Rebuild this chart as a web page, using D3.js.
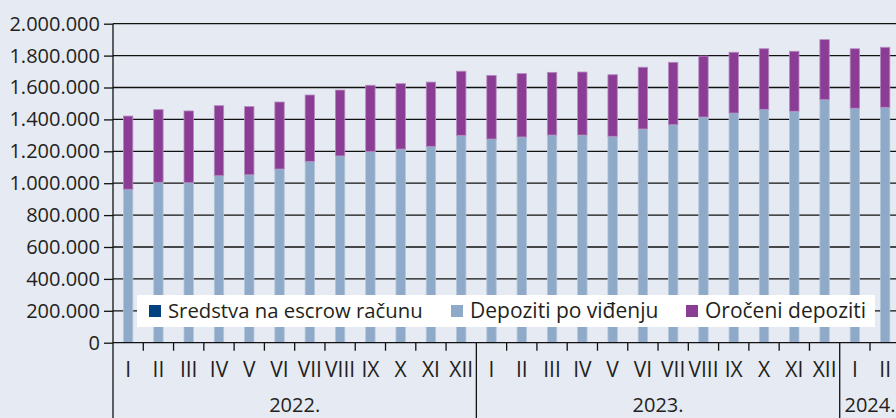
<!DOCTYPE html>
<html>
<head>
<meta charset="utf-8">
<script src="https://cdn.jsdelivr.net/npm/d3@7"></script>
<style>
  html, body { margin: 0; padding: 0; background: #e6eaf2; }
  svg { display: block; }
  text { font-family: "Open Sans", "Noto Sans", sans-serif; fill: #231f20; }
</style>
</head>
<body>
<svg id="chart" width="896" height="418"></svg>
<script>
// ---- data ----
const months = ["I","II","III","IV","V","VI","VII","VIII","IX","X","XI","XII",
                "I","II","III","IV","V","VI","VII","VIII","IX","X","XI","XII",
                "I","II"];
const years = ["2022.","2023.","2024."];
const yearOf = [0,0,0,0,0,0,0,0,0,0,0,0, 1,1,1,1,1,1,1,1,1,1,1,1, 2,2];
const escrow = [0,0,0,0,0,0,0,0,0,0,0,0, 0,0,0,0,0,0,0,0,0,0,0,0, 0,0];
const demand = [962000,1006000,1003000,1047000,1053000,1089000,1137000,1171000,1198000,1214000,1231000,1300000,
                1277000,1290000,1302000,1302000,1294000,1340000,1367000,1415000,1440000,1463000,1451000,1524000,
                1470000,1476000];
const totals = [1421000,1461000,1453000,1486000,1480000,1509000,1553000,1584000,1614000,1624000,1634000,1702000,
                1676000,1687000,1695000,1697000,1680000,1727000,1758000,1797000,1821000,1843000,1827000,1900000,
                1843000,1852000];
const term = totals.map((t, i) => t - demand[i] - escrow[i]);
const yTicks = [0,200000,400000,600000,800000,1000000,1200000,1400000,1600000,1800000,2000000];
const seriesNames = ["Sredstva na escrow računu","Depoziti po viđenju","Oročeni depoziti"];
const colors = ["#02417f","#8eaac8","#8b3c95"];
const strokes = ["#4a6f9c","#b4c6da","#b58bbf"];

// ---- layout ----
const svg = d3.select("#chart");
const x0 = 113, step = 30.28;
const x = d3.scaleBand().domain(d3.range(months.length))
  .range([x0, x0 + step * months.length]).paddingInner(0.69).paddingOuter(0.345);
const y = d3.scaleLinear().domain([0, 2000000]).range([342.7, 23.7]);

const fmt = v => d3.format(",")(v).replace(/,/g, ".");

// gridlines
svg.append("g").selectAll("line").data(yTicks.filter(d => d > 0)).join("line")
  .attr("x1", x0).attr("x2", 896)
  .attr("y1", d => y(d)).attr("y2", d => y(d))
  .attr("stroke", "#111").attr("stroke-width", 1.3);

// stacked bars
const table = months.map((m, i) => ({i, escrow: escrow[i], demand: demand[i], term: term[i]}));
const stack = d3.stack().keys(["escrow","demand","term"])(table);
svg.append("g").selectAll("g").data(stack).join("g")
  .attr("fill", (d, k) => colors[k])
  .attr("stroke", (d, k) => strokes[k])
  .attr("stroke-width", 0.8)
  .selectAll("rect").data(d => d.filter(s => s[1] - s[0] > 0)).join("rect")
  .attr("x", d => x(d.data.i))
  .attr("width", x.bandwidth())
  .attr("y", d => y(d[1]))
  .attr("height", d => y(d[0]) - y(d[1]));

// y axis
const yAxis = d3.axisLeft(y).tickValues(yTicks).tickFormat(fmt).tickSize(9).tickPadding(4);
const ya = svg.append("g").attr("transform", `translate(${x0},0)`).call(yAxis);
ya.select(".domain").remove();
ya.selectAll("line").attr("stroke", "#111").attr("stroke-width", 1.3);
ya.selectAll("text").attr("font-size", 20).style("font-family", "'Open Sans', sans-serif").attr("fill", "#231f20");
svg.append("line").attr("x1", x0).attr("x2", x0).attr("y1", y(2000000)).attr("y2", 418)
  .attr("stroke", "#111").attr("stroke-width", 1.3);

// x axis baseline
svg.append("line").attr("x1", x0).attr("x2", 896).attr("y1", y(0)).attr("y2", y(0))
  .attr("stroke", "#111").attr("stroke-width", 1.3);

// month ticks and year separators
const xa = svg.append("g");
months.forEach((m, i) => {
  if (i === 0) return;
  const bx = x0 + step * i;
  const sep = yearOf[i] !== yearOf[i - 1];
  xa.append("line").attr("x1", bx).attr("x2", bx).attr("y1", y(0)).attr("y2", sep ? 418 : y(0) + 8)
    .attr("stroke", "#111").attr("stroke-width", 1.3);
});
xa.selectAll("text.m").data(months).join("text").attr("class", "m")
  .attr("x", (d, i) => x(i) + x.bandwidth() / 2).attr("y", 377)
  .attr("text-anchor", "middle").attr("font-size", 21).text(d => d);

years.forEach((yr, k) => {
  const idx = d3.range(months.length).filter(i => yearOf[i] === k);
  const cx = x0 + step * (idx[0] + idx[idx.length - 1] + 1) / 2;
  xa.append("text").attr("x", cx).attr("y", 412).attr("text-anchor", "middle")
    .attr("font-size", 20).text(yr);
});

// legend
const lg = svg.append("g");
lg.append("rect").attr("x", 137).attr("y", 295).attr("width", 738).attr("height", 32).attr("fill", "#ffffff");
const legendX = [149, 451, 686];
const legendSize = [20.3, 21, 21];
seriesNames.forEach((name, k) => {
  lg.append("rect").attr("x", legendX[k]).attr("y", 305).attr("width", 12).attr("height", 12).attr("fill", colors[k]);
  lg.append("text").attr("x", legendX[k] + 19).attr("y", 318).attr("font-size", legendSize[k]).text(name);
});
</script>
</body>
</html>
